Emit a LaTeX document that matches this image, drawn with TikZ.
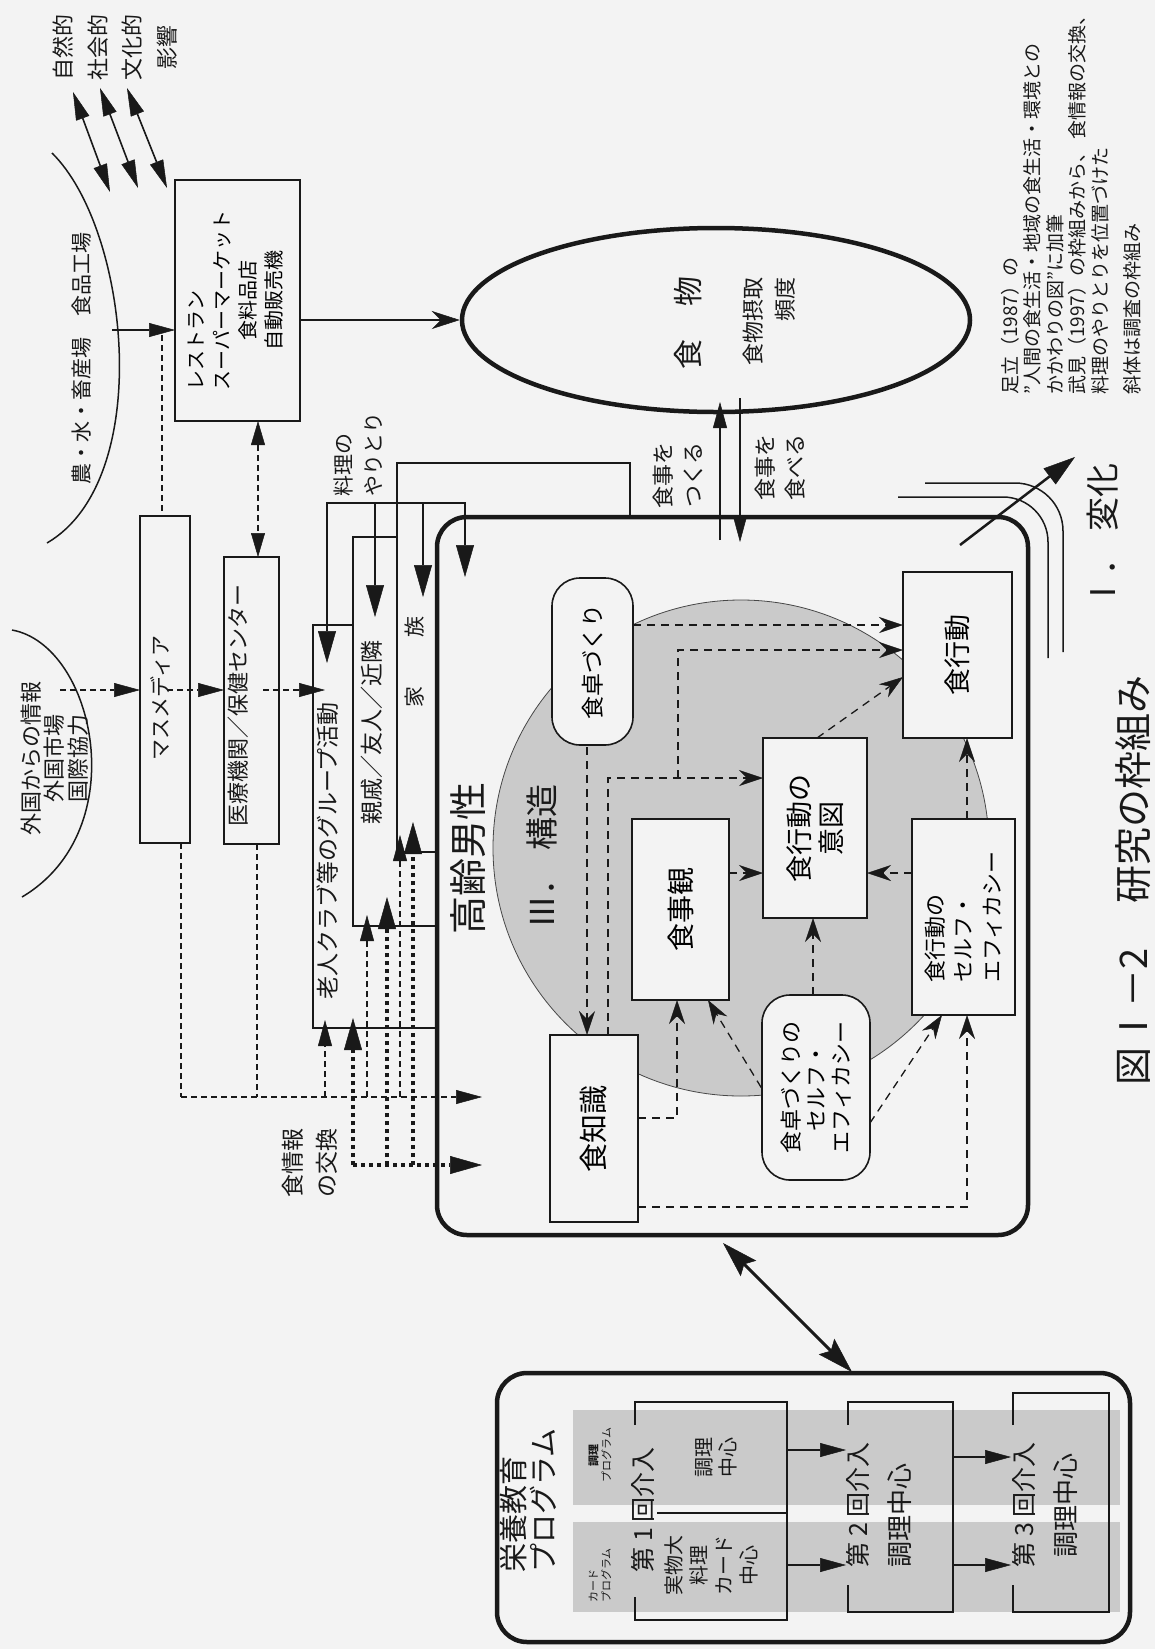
\documentclass[tikz,border=0pt]{standalone}
\usepackage{fontspec}
\setmainfont{Noto Sans CJK JP}
\usetikzlibrary{arrows.meta,shapes.geometric}
\definecolor{bg}{RGB}{243,243,243}
\definecolor{shade}{RGB}{202,202,202}
\definecolor{ink}{RGB}{25,25,25}
\newcommand{\fz}[2]{\fontsize{#1}{#2}\selectfont}
\begin{document}
\begin{tikzpicture}[x=1pt,y=1pt,
  bx/.style={draw=ink,line width=1.6pt,fill=bg,inner sep=0pt},
  rbx/.style={bx,rounded corners=28pt},
  lab/.style={inner sep=0pt,text=ink},
  thinln/.style={draw=ink,line width=1.5pt},
  dotln/.style={draw=ink,line width=1.8pt,dash pattern=on 6pt off 4pt},
  thickdot/.style={draw=ink,line width=3.5pt,dash pattern=on 4pt off 4pt},
  idash/.style={draw=ink,line width=1.3pt,dash pattern=on 8pt off 6pt},
  tri/.style={-{Triangle[length=26pt,width=14pt,line width=0.5pt]}},
  bigtri/.style={-{Triangle[length=32pt,width=18pt,line width=0.5pt]}},
  stl/.style={-{Stealth[length=24pt,width=16pt,inset=8pt,line width=0.5pt]}},
]
\fill[bg] (0,0) rectangle (1155,-1649);
\useasboundingbox (0,0) rectangle (1155,-1649);
\begin{scope}[x={(0pt,-1pt)},y={(-1pt,0pt)},rotate=90,transform shape]

% ---------- left: arcs and outside labels
\draw[thinln] (52,153) .. controls (130,230) and (155,480) .. (47,543);
\node[lab,font=\fz{21}{21}] (nou) at (82,358) {農・水・畜産場　食品工場};
\draw[thinln] (12,630) .. controls (95,645) and (135,830) .. (22,897);
\node[lab,font=\fz{22}{23.5},align=center] (gaikoku) at (54.5,758) {外国からの情報\\外国市場\\国際協力};
\node[lab,font=\fz{22}{34.5},align=center] (eikyo) at (115,47) {自然的\\社会的\\文化的\\影響};

% ---------- outer boxes
\node[bx,minimum width=241pt,minimum height=125pt,font=\fz{20}{26}] (rest) at (237.5,300.5)
  {\begin{tabular}{@{}l@{}}レストラン\\スーパーマーケット\\\hfil 食料品店\\\hfil 自動販売機\end{tabular}};
\node[bx,minimum width=327pt,minimum height=50pt] (mass) at (165,679.5) {};
\node[lab,font=\fz{21}{21}] (masst) at (160,698) {マスメディア};
\node[bx,minimum width=287pt,minimum height=55pt] (med) at (251.5,700.5) {};
\node[lab,font=\fz{22}{22}] (medt) at (238,705) {医療機関／保健センター};
\node[bx,minimum width=403pt,minimum height=187pt] (rojin) at (406.5,826.5) {};
\node[lab,font=\fz{23}{23}] (rojint) at (328,851) {老人クラブ等のグループ活動};
\node[bx,minimum width=389pt,minimum height=147pt] (shin) at (426.5,731.5) {};
\node[lab,font=\fz{23}{23}] (shint) at (372,732) {親戚／友人／近隣};
\node[bx,minimum width=389pt,minimum height=233pt] (kazoku) at (513.5,657.5) {};
\node[lab,font=\fz{21}{21}] (kazokut) at (415,662) {家\hspace{49pt}族};

% ---------- main frame
\node[draw=ink,fill=bg,line width=4.5pt,rounded corners=30pt,minimum width=718pt,minimum height=591pt,inner sep=0pt] (big) at (732.5,876) {};
\node[lab,font=\fz{38}{38}] (kdan) at (468,858) {高齢男性};
\node[circle,draw=ink!80,fill=shade,line width=0.8pt,minimum size=496pt,inner sep=0pt] (circ) at (741,848) {};
\node[lab,font=\fz{33}{33}] (kozo) at (542,856) {Ⅲ．\hspace{12pt}構造};

% ---------- inner boxes
\node[rbx,minimum width=167pt,minimum height=81pt,font=\fz{23}{23}] (dtz) at (592.5,661.5) {食卓づくり};
\node[bx,minimum width=181pt,minimum height=97pt,font=\fz{28}{28}] (shkn) at (680.5,909.5) {食事観};
\node[bx,minimum width=180pt,minimum height=104pt,font=\fz{27}{32},align=center] (ito) at (815,828) {食行動の\\意図};
\node[bx,minimum width=187pt,minimum height=88pt,font=\fz{29}{29}] (chs) at (594,1128.5) {食知識};
\node[rbx,minimum width=185pt,minimum height=108pt,font=\fz{22}{25},align=center] (dse) at (816,1087.5) {食卓づくりの\\セルフ・\\エフィカシー};
\node[bx,minimum width=196pt,minimum height=103pt,font=\fz{22}{28.5},align=left] (kse) at (963.5,917) {食行動の\\セルフ・\\エフィカシー};
\node[bx,minimum width=166pt,minimum height=109pt,font=\fz{27}{27}] (kd) at (957.5,655) {食行動};

% ---------- food ellipse
\node[ellipse,draw=ink,line width=4.5pt,minimum width=184pt,minimum height=508pt,inner sep=0pt] (food) at (716,320) {};
\node[lab,font=\fz{30}{30}] (foodt) at (688,323) {食\hspace{33pt}物};
\node[lab,font=\fz{22}{32},align=right,anchor=east] (freq) at (769,277) {食物摂取\\頻度};

% ---------- labels
\node[lab,font=\fz{21}{30},align=left,anchor=west] (ryori) at (358,497) {料理の\\やりとり};
\node[lab,font=\fz{23}{34},align=left] (joho) at (310,1163) {食情報\\の交換};
\node[lab,font=\fz{22}{30},align=center] (tsukuru) at (678,475) {食事を\\つくる};
\node[lab,font=\fz{22}{30},align=center] (taberu) at (780,467) {食事を\\食べる};
\node[lab,font=\fz{34}{34}] (henka) at (1103,536) {Ⅰ．\hspace{10pt}変化};
\node[lab,font=\fz{38}{38}] (cap) at (1133,880) {図\hspace{2pt}Ⅰ－2\hspace{45pt}研究の枠組み};
\node[lab,anchor=west,align=left,font=\fz{19}{22.5}] (note) at (1071,395)
  {足立（1987）の\\”人間の食生活・地域の食生活・環境との\\かかわりの図”に加筆\\武見（1997）の枠組みから、 食情報の交換、\\料理のやりとりを位置づけた\\[9.5pt]斜体は調査の枠組み};

% ---------- program box
\node[draw=ink,fill=bg,line width=4.5pt,rounded corners=30pt,minimum width=269pt,minimum height=633pt,inner sep=0pt] (prog) at (813.5,1507.5) {};
\node[fill=shade,inner sep=0pt,minimum width=95pt,minimum height=547pt] (band1) at (846.5,1457.5) {};
\node[fill=shade,inner sep=0pt,minimum width=90pt,minimum height=547pt] (band2) at (846.5,1567) {};
\node[lab,font=\fz{29}{30},align=left,anchor=west] (progt) at (528,1573) {栄養教育\\プログラム};
\node[lab,font=\fz{11}{13},align=center] (cprog) at (600,1455) {\textbf{調理}\\プログラム};
\node[lab,font=\fz{11}{13},align=left,anchor=west] (kprog) at (600,1603) {カード\\プログラム};

\draw[thinln] (635,1425) -- (635,1402) -- (787,1402) -- (787,1620) -- (635,1620) -- (635,1597);
\draw[thinln] (657,1513) -- (787,1513);
\node[lab,font=\fz{25}{25}] (p1t) at (643,1510) {第 1 回介入};
\node[lab,font=\fz{20}{24},align=center] (p1a) at (716,1457) {調理\\中心};
\node[lab,font=\fz{20}{25},align=center] (p1b) at (711,1565) {実物大\\料理\\カード\\中心};
\draw[thinln] (848,1425) -- (848,1402) -- (953,1402) -- (953,1612) -- (848,1612) -- (848,1585);
\node[lab,font=\fz{25}{25}] (p2t) at (858,1505) {第 2 回介入};
\node[lab,font=\fz{26}{26}] (p2c) at (900,1515) {調理中心};
\draw[thinln] (1013,1425) -- (1013,1393) -- (1109,1393) -- (1109,1612) -- (1013,1612) -- (1013,1585);
\node[lab,font=\fz{25}{25}] (p3t) at (1024,1505) {第 3 回介入};
\node[lab,font=\fz{26}{26}] (p3c) at (1066,1505) {調理中心};
\draw[thinln,tri] (787,1450) -- (846,1450);
\draw[thinln,tri] (787,1565) -- (846,1565);
\draw[thinln,tri] (953,1457) -- (1011,1457);
\draw[thinln,tri] (953,1565) -- (1011,1565);

% ---------- connectors outside
\foreach \a/\b/\c/\d in {73/92/110/192, 100/88/138/188, 127/88/167/188}
  \draw[line width=1.6pt,draw=ink,{Triangle[length=28pt,width=14pt,line width=0.5pt]}-{Triangle[length=28pt,width=14pt,line width=0.5pt]}] (\a,\b) -- (\c,\d);
\draw[thinln,tri] (112,330) -- (175,330);
\draw[thinln,-{Stealth[length=28pt,width=18pt,inset=9pt,line width=0.5pt]}] (300,320) -- (food.north);
\draw[dotln] (162,335) -- (162,516);
\draw[dotln,{Triangle[length=24pt,width=14pt,line width=0.5pt]}-{Triangle[length=24pt,width=14pt,line width=0.5pt]}] (258,421) -- (258,557);
\draw[dotln,tri] (60,690) -- (140,690);
\draw[dotln,tri] (167,690) -- (224,690);
\draw[dotln,tri] (263,690) -- (325,690);
\draw[dotln] (181,843) -- (181,1097);
\draw[dotln] (257,844) -- (257,1097);
\draw[dotln,tri] (181,1097) -- (482,1097);
\draw[dotln,tri] (325,1097) -- (325,1020);
\draw[dotln,tri] (367,1097) -- (367,915);
\draw[dotln,tri] (400,1097) -- (400,835);
\draw[thickdot,bigtri] (353,1165) -- (353,1018);
\draw[thickdot,bigtri] (387,1165) -- (387,897);
\draw[thickdot,bigtri] (413,1165) -- (413,822);
\draw[thickdot,bigtri] (353,1165) -- (482,1165);
\draw[draw=ink,line width=2.5pt,{Triangle[length=32pt,width=18pt,line width=0.5pt]}-{Triangle[length=32pt,width=18pt,line width=0.5pt]}] (327,663) -- (327,503) -- (465,503) -- (465,577);
\draw[draw=ink,line width=2.5pt,bigtri] (375,503) -- (375,617);
\draw[draw=ink,line width=2.5pt,bigtri] (423,503) -- (423,597);
\draw[draw=ink,line width=2pt,tri] (720,540) -- (720,402);
\draw[draw=ink,line width=2pt,tri] (740,398) -- (740,542);
\draw[draw=ink,line width=2.5pt,-{Triangle[length=32pt,width=20pt,line width=0.5pt]}] (960,545) -- (1075,457);
\draw[thinln,rounded corners=45pt] (898,497) -- (1048,497) -- (1048,658);
\draw[thinln,rounded corners=48pt] (925,483) -- (1063,483) -- (1063,652);
\draw[draw=ink,line width=3pt,{Stealth[length=36pt,width=22pt,inset=6pt,line width=0.5pt]}-{Stealth[length=36pt,width=22pt,inset=6pt,line width=0.5pt]}] (723,1243) -- (852,1372);

% ---------- inner dashed arrows
\draw[idash,stl] (633,625) -- (903,625);
\draw[idash,stl] (608,1035) -- (608,778) -- (763,778);
\draw[idash,stl] (678,778) -- (678,650) -- (903,650);
\draw[idash,stl] (587,747) -- (587,1035);
\draw[idash,stl] (729,873) -- (763,873);
\draw[idash,stl] (912,873) -- (867,873);
\draw[idash,stl] (813,995) -- (813,918);
\draw[idash,stl] (dse.north) -- (708,1000);
\draw[idash,stl] (638,1118) -- (677,1118) -- (677,1000);
\draw[idash,stl] (870,1123) -- (942,1015);
\draw[idash,stl] (638,1207) -- (967,1207) -- (967,1015);
\draw[idash,stl] (817,738) -- (903,677);
\draw[idash,stl] (967,819) -- (967,738);
\end{scope}
\end{tikzpicture}
\end{document}
